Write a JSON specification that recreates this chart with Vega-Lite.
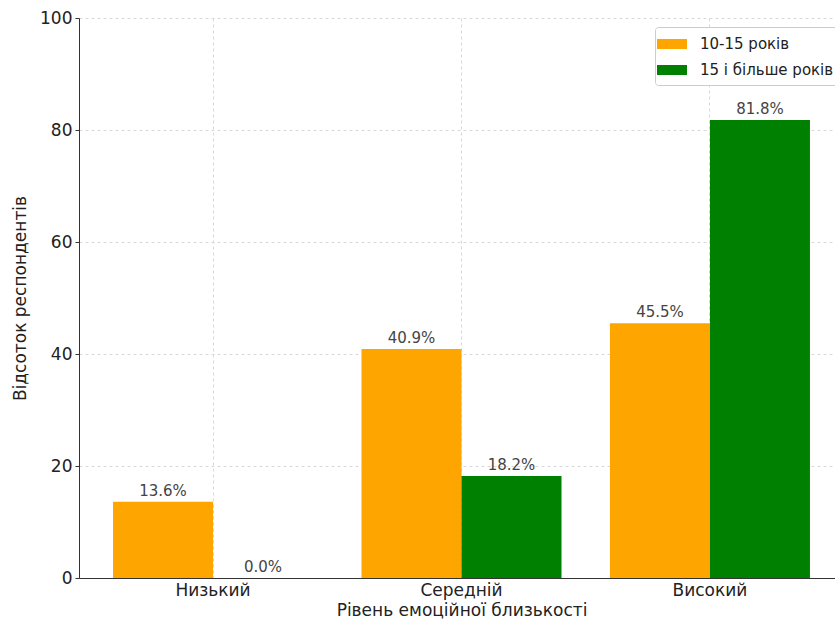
{
  "$schema": "https://vega.github.io/schema/vega-lite/v6.json",
  "autosize": {"type": "none"},
  "padding": {"left": 79, "top": 18, "right": 0, "bottom": 46},
  "width": 756,
  "height": 560,
  "config": {
    "font": "DejaVu Sans",
    "view": {"stroke": null},
    "axis": {
      "labelFont": "DejaVu Sans",
      "titleFont": "DejaVu Sans",
      "labelFontSize": 17,
      "titleFontSize": 17,
      "labelColor": "#222",
      "titleColor": "#222",
      "titleFontWeight": "normal",
      "domainColor": "#333",
      "tickColor": "#333",
      "gridColor": "#d8d8d8",
      "gridDash": [3, 3],
      "gridWidth": 1
    }
  },
  "data": {
    "values": [
      {"level": "Низький", "group": "10-15 років", "value": 13.6},
      {"level": "Низький", "group": "15 і більше років", "value": 0.0},
      {"level": "Середній", "group": "10-15 років", "value": 40.9},
      {"level": "Середній", "group": "15 і більше років", "value": 18.2},
      {"level": "Високий", "group": "10-15 років", "value": 45.5},
      {"level": "Високий", "group": "15 і більше років", "value": 81.8}
    ]
  },
  "encoding": {
    "x": {
      "field": "level",
      "type": "nominal",
      "sort": ["Низький", "Середній", "Високий"],
      "scale": {"range": [0, 765], "paddingInner": 0.195, "paddingOuter": 0.137},
      "axis": {
        "title": "Рівень емоційної близькості",
        "labelAngle": 0,
        "grid": true,
        "ticks": false,
        "labelPadding": 4,
        "titlePadding": 4
      }
    },
    "xOffset": {
      "field": "group",
      "type": "nominal",
      "sort": ["10-15 років", "15 і більше років"],
      "scale": {"paddingInner": 0, "paddingOuter": 0}
    },
    "y": {
      "field": "value",
      "type": "quantitative",
      "scale": {"domain": [0, 100], "nice": false},
      "axis": {
        "title": "Відсоток респондентів",
        "values": [0, 20, 40, 60, 80, 100],
        "grid": true,
        "tickSize": 4,
        "labelPadding": 3,
        "titlePadding": 10
      }
    }
  },
  "layer": [
    {
      "mark": {"type": "bar"},
      "encoding": {
        "color": {
          "field": "group",
          "type": "nominal",
          "scale": {"domain": ["10-15 років", "15 і більше років"], "range": ["#FFA500", "#008000"]},
          "legend": {
            "title": null,
            "orient": "none",
            "legendX": 576,
            "legendY": 9,
            "symbolType": "M-1.5,-0.5H1.5V0.5H-1.5Z",
            "symbolSize": 400,
            "symbolStrokeWidth": 0,
            "labelFont": "DejaVu Sans",
            "labelFontSize": 15,
            "labelColor": "#222",
            "labelOffset": 18,
            "rowPadding": 8,
            "padding": 7,
            "strokeColor": "#cccccc",
            "fillColor": "white",
            "cornerRadius": 3
          }
        }
      }
    },
    {
      "transform": [{"calculate": "format(datum.value, '.1f') + '%'", "as": "label"}],
      "mark": {"type": "text", "baseline": "bottom", "dy": -3, "fontSize": 15, "color": "#444", "font": "DejaVu Sans"},
      "encoding": {"text": {"field": "label"}}
    }
  ]
}
